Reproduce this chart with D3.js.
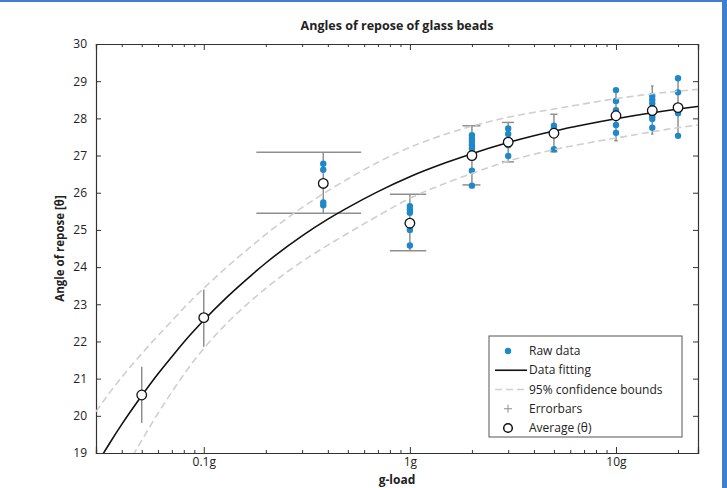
<!DOCTYPE html>
<html><head><meta charset="utf-8">
<script src="https://cdn.jsdelivr.net/npm/d3@7"></script>
<style>
html,body{margin:0;padding:0;background:#fff;}
svg{display:block;}
text{font-family:"Open Sans","Noto Sans",sans-serif;fill:#222;}
</style></head>
<body>
<svg id="chart" width="727" height="488"></svg>
<script>
// ---- data ----
const gLoads   = [0.05, 0.1, 0.38, 1, 2, 3, 5, 10, 15, 20];
const avgAngle = [20.56, 22.64, 26.25, 25.18, 27.0, 27.36, 27.6, 28.07, 28.21, 28.29];
const errLow   = [19.81, 21.86, 25.45, 24.44, 26.21, 26.83, 27.10, 27.40, 27.58, 27.53];
const errHigh  = [21.32, 23.40, 27.09, 25.96, 27.80, 27.89, 28.11, 28.76, 28.87, 29.06];

const rawLoad  = [0.38,0.38,0.38,0.38,
                  1,1,1,1,1,1,
                  2,2,2,2,2,2,2,
                  3,3,3,3,3,
                  5,5,5,5,
                  10,10,10,10,10,10,10,
                  15,15,15,15,15,15,
                  20,20,20,20,20];
const rawAngle = [26.78,26.62,25.74,25.66,
                  25.64,25.55,25.46,25.1,25.0,24.58,
                  27.55,27.46,27.37,27.28,27.19,26.59,26.19,
                  27.73,27.58,27.42,27.28,26.99,
                  27.8,27.72,27.62,27.17,
                  28.76,28.47,28.22,28.1,28.03,27.82,27.61,
                  28.6,28.5,28.4,28.05,27.98,27.75,
                  29.08,28.7,28.3,28.14,27.53];

// fitted curve and its 95% bounds
const curveLoad  = [0.03,0.035,0.04,0.05,0.06,0.07,0.08,0.1,0.13,0.17,0.2,0.3,0.4,0.5,0.7,1,1.5,2,3,5,7,10,15,20,25];
const fitAngle   = [18.66,19.27,19.77,20.54,21.13,21.59,21.98,22.57,23.20,23.78,24.11,24.84,25.29,25.60,26.03,26.43,26.81,27.05,27.35,27.66,27.83,27.99,28.15,28.25,28.32];
const upperAngle = [20.11,20.63,21.04,21.67,22.16,22.55,22.90,23.43,24.01,24.56,24.88,25.60,26.05,26.37,26.82,27.22,27.58,27.79,28.03,28.25,28.39,28.53,28.66,28.73,28.78];
const lowerAngle = [17.11,17.82,18.41,19.34,20.07,20.64,21.11,21.81,22.50,23.10,23.43,24.15,24.59,24.91,25.38,25.85,26.26,26.52,26.85,27.16,27.32,27.47,27.64,27.75,27.82];

const yTicks = [19,20,21,22,23,24,25,26,27,28,29,30];
const xMajor = [0.1, 1, 10];
const xMajorLabels = ["0.1g", "1g", "10g"];
const xMinor = [0.03,0.04,0.05,0.06,0.07,0.08,0.09,0.2,0.3,0.4,0.5,0.6,0.7,0.8,0.9,2,3,4,5,6,7,8,9,20];
const legendLabels = ["Raw data","Data fitting","95% confidence bounds","Errorbars","Average (\u03B8)"];

// ---- layout ----
const svg = d3.select("#chart");
const L = 96, R = 698, T = 44, B = 453;
const x = d3.scaleLog().domain([0.03, 25]).range([L, R]);
const y = d3.scaleLinear().domain([19, 30]).range([B, T]);

// window frame
svg.append("rect").attr("x",0).attr("y",0).attr("width",727).attr("height",2).attr("fill","#3f7fcb");
svg.append("rect").attr("x",722).attr("y",0).attr("width",5).attr("height",488).attr("fill","#3f7fcb");

svg.append("defs").append("clipPath").attr("id","clip")
  .append("rect").attr("x",L).attr("y",T).attr("width",R-L).attr("height",B-T);

const axisColor = "#333";
const gx = svg.append("g").attr("transform",`translate(0,${B})`)
  .call(d3.axisBottom(x).tickValues(xMajor).tickSize(-6).tickFormat((d,i)=>xMajorLabels[i]).tickPadding(4));
const gxm = svg.append("g").attr("transform",`translate(0,${B})`)
  .call(d3.axisBottom(x).tickValues(xMinor).tickSize(-3).tickFormat(""));
const gxt = svg.append("g").attr("transform",`translate(0,${T})`)
  .call(d3.axisTop(x).tickValues(xMajor).tickSize(-6).tickFormat(""));
const gxtm = svg.append("g").attr("transform",`translate(0,${T})`)
  .call(d3.axisTop(x).tickValues(xMinor).tickSize(-3).tickFormat(""));
const gy = svg.append("g").attr("transform",`translate(${L},0)`)
  .call(d3.axisLeft(y).tickValues(yTicks).tickSize(-5).tickPadding(9).tickFormat(d3.format("d")));
const gyr = svg.append("g").attr("transform",`translate(${R},0)`)
  .call(d3.axisRight(y).tickValues(yTicks).tickSize(-5).tickFormat(""));
[gx,gxm,gxt,gxtm,gy,gyr].forEach(g=>{
  g.select(".domain").attr("stroke",axisColor).attr("stroke-width",1.2);
  g.selectAll(".tick line").attr("stroke",axisColor).attr("stroke-width",1);
  g.selectAll("text").attr("font-family","'Open Sans',sans-serif").attr("font-size",12).attr("fill","#222");
});

const plot = svg.append("g").attr("clip-path","url(#clip)");

// error bars
const errColor = "#8f8f8f";
gLoads.forEach((g,i)=>{
  plot.append("line").attr("x1",x(g)).attr("x2",x(g)).attr("y1",y(errLow[i])).attr("y2",y(errHigh[i]))
    .attr("stroke",errColor).attr("stroke-width",1.5);
  if (g - 0.2 > 0) {
    [errLow[i], errHigh[i]].forEach(v=>{
      plot.append("line").attr("x1",x(g-0.2)).attr("x2",x(g+0.2)).attr("y1",y(v)).attr("y2",y(v))
        .attr("stroke",errColor).attr("stroke-width",1.5);
    });
  }
});

// raw data
plot.selectAll("circle.raw").data(rawLoad).join("circle").attr("class","raw")
  .attr("cx",d=>x(d)).attr("cy",(d,i)=>y(rawAngle[i])).attr("r",3.2).attr("fill","#1f88c9");

// confidence bounds
const line = d3.line().curve(d3.curveMonotoneX);
const dashStyle = s => s.attr("fill","none").attr("stroke","#cfcfcf").attr("stroke-width",1.6).attr("stroke-dasharray","7,4");
plot.append("path").attr("d",line(curveLoad.map((g,i)=>[x(g),y(upperAngle[i])]))).call(dashStyle);
plot.append("path").attr("d",line(curveLoad.map((g,i)=>[x(g),y(lowerAngle[i])]))).call(dashStyle);

// fit
plot.append("path").attr("d",line(curveLoad.map((g,i)=>[x(g),y(fitAngle[i])])))
  .attr("fill","none").attr("stroke","#111").attr("stroke-width",1.6);

// averages
plot.selectAll("circle.avg").data(gLoads).join("circle").attr("class","avg")
  .attr("cx",d=>x(d)).attr("cy",(d,i)=>y(avgAngle[i])).attr("r",4.8)
  .attr("fill","#fff").attr("stroke","#111").attr("stroke-width",1.3);

// titles
svg.append("text").attr("x",(L+R)/2).attr("y",30).attr("text-anchor","middle")
  .attr("font-weight","bold").attr("font-size",12.5).text("Angles of repose of glass beads");
svg.append("text").attr("x",(L+R)/2).attr("y",483.5).attr("text-anchor","middle")
  .attr("font-weight","bold").attr("font-size",12).text("g-load");
svg.append("text").attr("transform",`translate(64,${(T+B)/2}) rotate(-90)`).attr("text-anchor","middle")
  .attr("font-weight","bold").attr("font-size",11.5).text("Angle of repose [\u03B8]");

// legend
const lg = svg.append("g");
lg.append("rect").attr("x",489).attr("y",336).attr("width",193).attr("height",101)
  .attr("fill","#fff").attr("stroke","#555").attr("stroke-width",1);
const rowY = i => 351 + i*19.25;
lg.append("circle").attr("cx",508).attr("cy",rowY(0)).attr("r",3.2).attr("fill","#1f88c9");
lg.append("line").attr("x1",495).attr("x2",527).attr("y1",rowY(1)).attr("y2",rowY(1)).attr("stroke","#111").attr("stroke-width",1.6);
lg.append("line").attr("x1",495).attr("x2",527).attr("y1",rowY(2)).attr("y2",rowY(2)).call(dashStyle);
lg.append("line").attr("x1",504).attr("x2",512).attr("y1",rowY(3)).attr("y2",rowY(3)).attr("stroke",errColor).attr("stroke-width",1);
lg.append("line").attr("x1",508).attr("x2",508).attr("y1",rowY(3)-4).attr("y2",rowY(3)+4).attr("stroke",errColor).attr("stroke-width",1);
lg.append("circle").attr("cx",508).attr("cy",rowY(4)).attr("r",4.3).attr("fill","#fff").attr("stroke","#111").attr("stroke-width",1.5);
legendLabels.forEach((t,i)=>{
  lg.append("text").attr("x",529).attr("y",rowY(i)).attr("dy","0.35em").attr("font-size",12).text(t);
});
</script>
</body></html>
